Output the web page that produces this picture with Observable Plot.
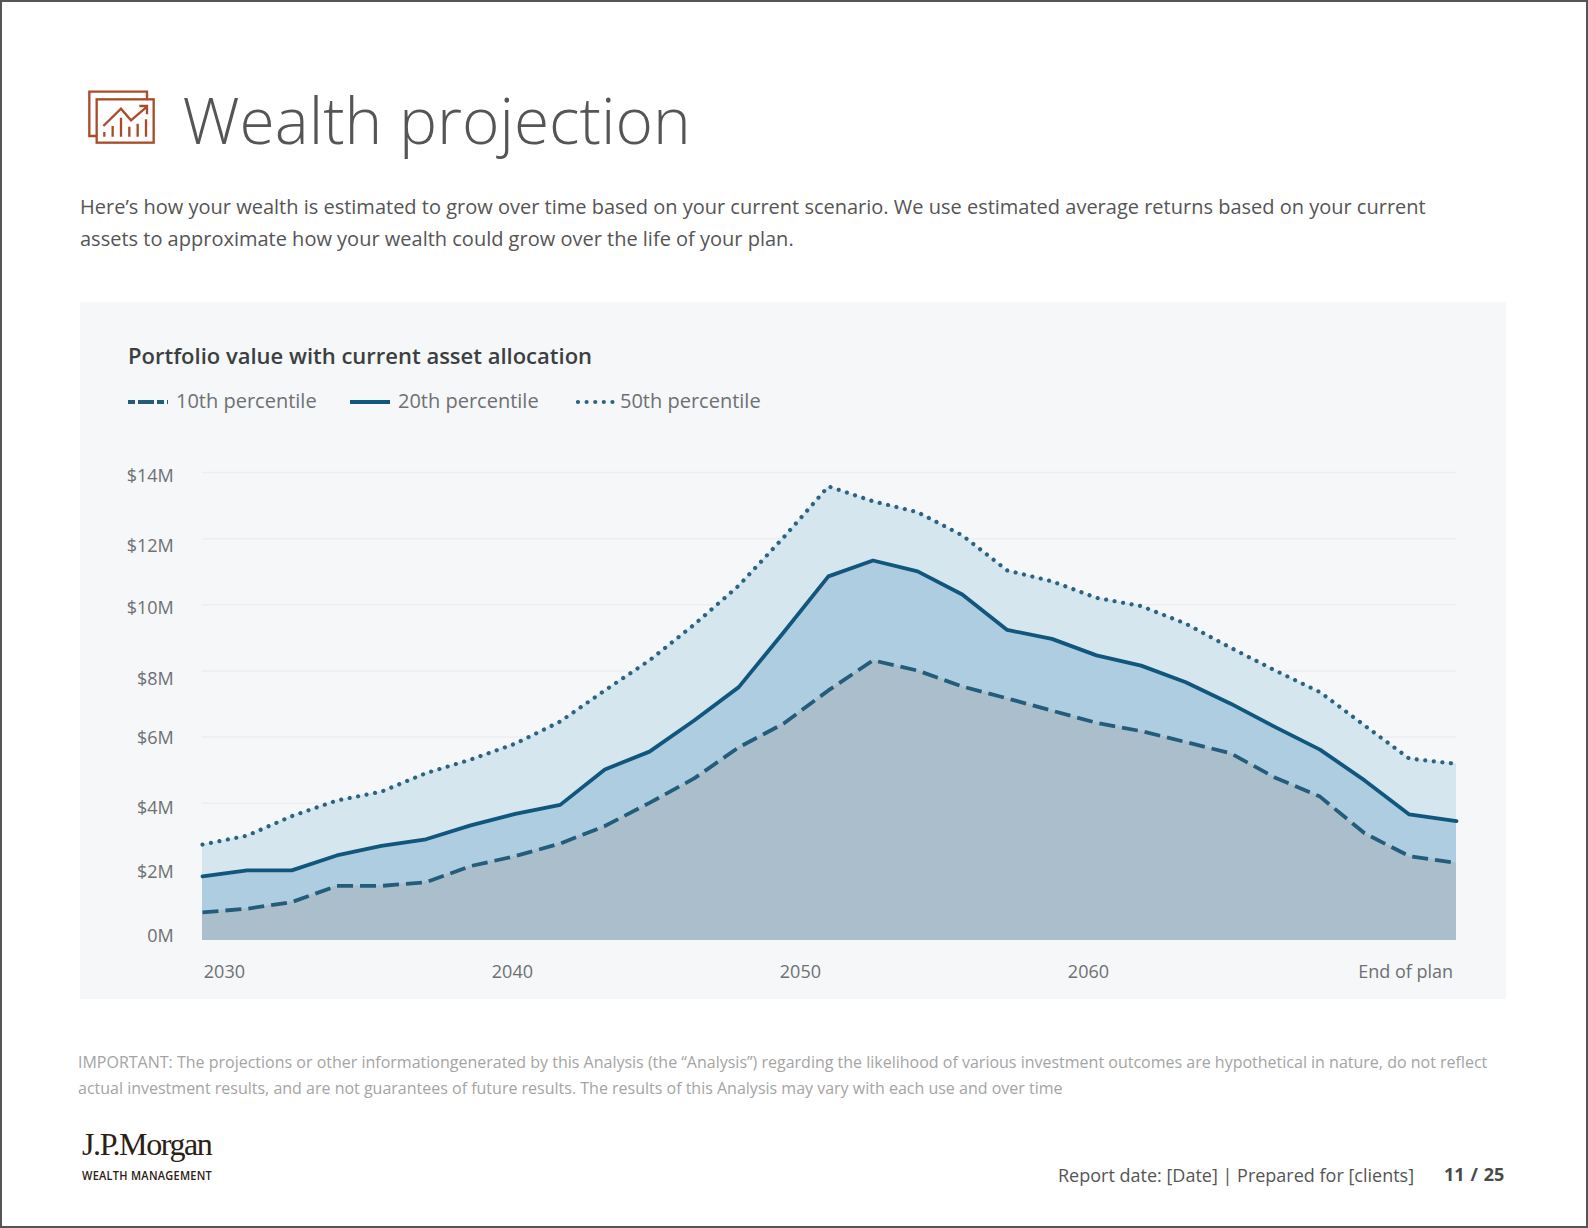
<!DOCTYPE html>
<html>
<head>
<meta charset="utf-8">
<script src="https://cdn.jsdelivr.net/npm/d3@7"></script>
<script src="https://cdn.jsdelivr.net/npm/@observablehq/plot@0.6"></script>
<style>
html,body{margin:0;padding:0;background:#fff;}
#page{position:relative;width:1588px;height:1228px;overflow:hidden;font-family:"Open Sans",sans-serif;box-sizing:border-box;border:2px solid #555;}
#page>*{position:absolute;}
.t{white-space:nowrap;line-height:1;}
#panel{left:78px;top:300px;width:1426px;height:697px;background:#f5f7f9;}
#title{left:180.5px;top:86px;font-size:64px;font-weight:300;color:#555;}
.para{left:78px;font-size:20px;color:#555;}
#chartTitle{left:126px;top:342px;font-size:22px;font-weight:600;color:#3c3f42;}
.leg{font-size:20px;color:#6e7073;top:388.5px;}
.foot{left:76px;font-size:16px;color:#a4a4a4;}
#jpm{left:80px;top:1126px;font-family:"Liberation Serif",serif;font-size:32px;color:#2b2013;letter-spacing:-1.4px;}
#wm{left:80px;top:1168px;font-size:12px;font-weight:600;color:#2b2013;letter-spacing:.3px;transform:scaleX(.915);transform-origin:left center;}
#report{left:1056px;top:1163.5px;font-size:18px;color:#555;}
#pages{left:1442px;top:1163px;font-size:18px;font-weight:700;color:#4a4a4a;word-spacing:1.2px;}
#chart{left:78px;top:436px;}
</style>
</head>
<body>
<div id="page">
  <svg id="icon" style="left:73.5px;top:74px" width="100" height="80" viewBox="0 0 300 240" fill="none" stroke="#a84c2a" stroke-width="7">
    <path d="M62 180H40V47H213V70"/>
    <rect x="62" y="70" width="171" height="130"/>
    <path d="M82 150L135 98L165 133L213 92M190 90H213V115"/>
    <path d="M85 182V168M110 182V150M135 182V125M160 182V152M185 182V143M210 182V130"/>
  </svg>
  <div id="title" class="t">Wealth projection</div>
  <div class="t para" style="top:194.5px">Here’s how your wealth is estimated to grow over time based on your current scenario. We use estimated average returns based on your current</div>
  <div class="t para" style="top:226.5px">assets to approximate how your wealth could grow over the life of your plan.</div>
  <div id="panel"></div>
  <div id="chartTitle" class="t">Portfolio value with current asset allocation</div>
  <div id="legend"></div>
  <div id="chart"></div>
  <div class="t foot" style="top:1052px">IMPORTANT: The projections or other informationgenerated by this Analysis (the “Analysis”) regarding the likelihood of various investment outcomes are hypothetical in nature, do not reflect</div>
  <div class="t foot" style="top:1078px">actual investment results, and are not guarantees of future results. The results of this Analysis may vary with each use and over time</div>
  <div id="jpm" class="t">J.P.Morgan</div>
  <div id="wm" class="t">WEALTH MANAGEMENT</div>
  <div id="report" class="t">Report date: [Date] | Prepared for [clients]</div>
  <div id="pages" class="t">11 / 25</div>
</div>
<script>
const years = [2029.24,2030.79,2032.34,2033.90,2035.45,2037.00,2038.55,2040.10,2041.66,2043.21,2044.76,2046.31,2047.86,2049.42,2050.97,2052.52,2054.07,2055.62,2057.18,2058.73,2060.28,2061.83,2063.38,2064.94,2066.49,2068.04,2069.59,2071.14,2072.78];
const p50 = [2.75,3.02,3.61,4.08,4.35,4.91,5.32,5.80,6.47,7.41,8.32,9.40,10.58,12.04,13.58,13.13,12.80,12.10,11.04,10.71,10.21,9.96,9.43,8.70,8.01,7.36,6.35,5.35,5.19];
const p20 = [1.79,1.97,1.97,2.42,2.71,2.91,3.33,3.68,3.95,5.02,5.56,6.50,7.51,9.17,10.86,11.34,11.01,10.31,9.24,8.97,8.47,8.16,7.66,7.01,6.30,5.62,4.69,3.66,3.46];
const p10 = [0.70,0.81,1.01,1.50,1.50,1.61,2.10,2.40,2.78,3.31,4.01,4.75,5.69,6.41,7.41,8.32,8.01,7.53,7.17,6.80,6.43,6.18,5.85,5.51,4.77,4.20,3.09,2.40,2.19];
const yTicks = [0,2,4,6,8,10,12,14];
const gridTicks = [0,2,4,6,8,10,12,14];
const xTicks = [2030,2040,2050,2060];
const endLabel = "End of plan";
const seriesNames = ["10th percentile","20th percentile","50th percentile"];

const rows = years.map((year,i)=>({year,p10:p10[i],p20:p20[i],p50:p50[i]}));
const xEnd = years[years.length-1];
const areaFloor = -0.151;
const yNudge = {14:4,12:8,10:3,8:8,6:1.5,4:5.5,2:3,0:1};
const C = {dash:"#245c7c",solid:"#11567c",dot:"#2c6380",f50:"#d6e6ef",f20:"#aecde0",f10:"#abbecc",grid:"#edeef0",tick:"#6e7073"};
const styles = {
  [seriesNames[0]]:{stroke:C.dash,strokeWidth:3.8,strokeDasharray:"16,7",strokeLinecap:"butt"},
  [seriesNames[1]]:{stroke:C.solid,strokeWidth:3.8,strokeLinecap:"round"},
  [seriesNames[2]]:{stroke:C.dot,strokeWidth:4.2,strokeDasharray:"0.01,8.6",strokeLinecap:"round"}
};

const chart = Plot.plot({
  width:1426, height:559,
  marginLeft:122, marginRight:50, marginTop:34, marginBottom:57,
  style:{background:"transparent",fontFamily:"'Open Sans',sans-serif",fontSize:"18px"},
  x:{domain:[years[0],xEnd]},
  y:{domain:[areaFloor,14]},
  marks:[
    Plot.ruleY(gridTicks,{stroke:C.grid,strokeWidth:1.5}),
    Plot.areaY(rows,{x:"year",y1:()=>areaFloor,y2:"p50",fill:C.f50}),
    Plot.areaY(rows,{x:"year",y1:()=>areaFloor,y2:"p20",fill:C.f20}),
    Plot.areaY(rows,{x:"year",y1:()=>areaFloor,y2:"p10",fill:C.f10}),
    Plot.lineY(rows,{x:"year",y:"p50",...styles[seriesNames[2]]}),
    Plot.lineY(rows,{x:"year",y:"p20",...styles[seriesNames[1]]}),
    Plot.lineY(rows,{x:"year",y:"p10",...styles[seriesNames[0]]}),
    ...yTicks.map(t=>Plot.axisY([t],{anchor:"left",tickSize:0,tickPadding:28.7,label:null,dy:yNudge[t],fontSize:18,fill:C.tick,tickFormat:d=>d===0?"0M":`$${d}M`})),
    Plot.axisX(xTicks,{anchor:"bottom",tickSize:0,tickPadding:25,label:null,fontSize:18,fill:C.tick,tickFormat:d=>String(d)}),
    Plot.text([endLabel],{x:()=>xEnd,y:()=>areaFloor,text:d=>d,textAnchor:"end",lineAnchor:"middle",dx:-3.4,dy:32,fontSize:18,fill:C.tick})
  ]
});
document.getElementById("chart").appendChild(chart);

// legend
const legend = document.getElementById("legend");
const swatchX = [126,348,574], labelX = [174,396,618];
seriesNames.forEach((name,i)=>{
  const s = styles[name];
  const sw = d3.create("svg").attr("width",42).attr("height",8)
    .style("position","absolute").style("left",swatchX[i]+"px").style("top","395.5px");
  sw.append("line").attr("x1",i===2?2:0).attr("x2",40).attr("y1",4).attr("y2",4)
    .attr("stroke",s.stroke).attr("stroke-width",4.2)
    .attr("stroke-linecap",i===1?"butt":s.strokeLinecap)
    .attr("stroke-dasharray",i===0?"7,3 16,3":(s.strokeDasharray||null));
  legend.appendChild(sw.node());
  const t = document.createElement("div");
  t.className="t leg"; t.textContent=name; t.style.position="absolute"; t.style.left=labelX[i]+"px";
  legend.appendChild(t);
});
</script>
</body>
</html>
